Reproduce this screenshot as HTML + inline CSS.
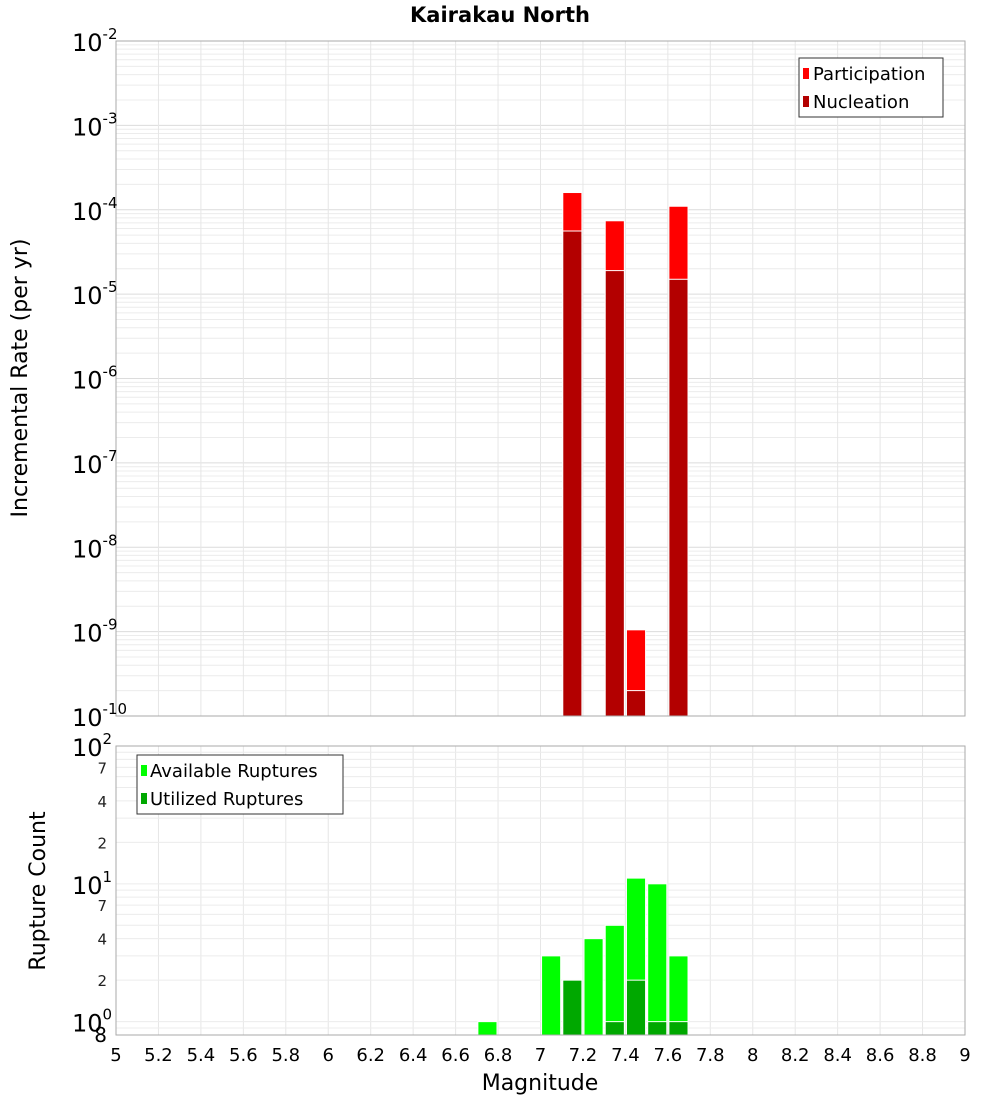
<!DOCTYPE html>
<html><head><meta charset="utf-8"><style>
body{margin:0;background:#fff;font-family:"DejaVu Sans","Liberation Sans",sans-serif}
</style></head><body>
<svg id="c" width="1000" height="1100" xmlns="http://www.w3.org/2000/svg" font-family="DejaVu Sans, Liberation Sans, sans-serif">
<text x="500" y="22" text-anchor="middle" font-size="21" font-weight="bold">Kairakau North</text>
<g id="topG"></g>
<g id="botG"></g>
<text transform="translate(27,378) rotate(-90)" text-anchor="middle" font-size="22">Incremental Rate (per yr)</text>
<text transform="translate(45,891) rotate(-90)" text-anchor="middle" font-size="22">Rupture Count</text>
<text x="540" y="1090" text-anchor="middle" font-size="22">Magnitude</text>
</svg>
<script>
const mags=[7.15,7.35,7.45,7.65];
const participation=[1.6e-4,7.4e-5,1.05e-9,1.1e-4];
const nucleation=[5.6e-5,1.9e-5,2e-10,1.5e-5];
const countMags=[6.75,7.05,7.15,7.25,7.35,7.45,7.55,7.65];
const available=[1,3,2,4,5,11,10,3];
const utilized=[0,0,2,0,1,2,1,1];
const xTicks=[5,5.2,5.4,5.6,5.8,6,6.2,6.4,6.6,6.8,7,7.2,7.4,7.6,7.8,8,8.2,8.4,8.6,8.8,9];
const rateExps=[-2,-3,-4,-5,-6,-7,-8,-9,-10];
const countMinor=[2,4,7,20,40,70];

const NS='http://www.w3.org/2000/svg';
const X0=116,X1=965;
const xs=m=>X0+(m-5)/4*(X1-X0);
const T0=41,T1=716;
const yt=v=>T0+(-2-Math.log10(v))/8*(T1-T0);
const B0=746,B1=1035;
const yb=v=>B0+(Math.log10(100)-Math.log10(v))/(2-Math.log10(0.8))*(B1-B0);
function el(p,t,a){const e=document.createElementNS(NS,t);for(const k in a)e.setAttribute(k,a[k]);p.appendChild(e);return e;}
const topG=document.getElementById('topG'),botG=document.getElementById('botG');

for(let e=-10;e<-2;e++)for(let k=1;k<10;k++){const y=yt(k*Math.pow(10,e));
const l=el(topG,'line',{x1:X0,x2:X1,y1:y,y2:y,stroke:k==1?'#dcdcdc':'#ececec','stroke-width':1});

}
xTicks.forEach(t=>{const x=xs(t);
const l=el(topG,'line',{x1:x,x2:x,y1:T0,y2:T1,stroke:'#e6e6e6'});


const l2=el(botG,'line',{x1:x,x2:x,y1:B0,y2:B1,stroke:'#e6e6e6'});

});
mags.forEach((m,i)=>{const x=xs(m-0.045),w=xs(m+0.045)-x;
const r=el(topG,'rect',{x:x,y:yt(participation[i]),width:w,height:T1-yt(participation[i]),fill:'#ff0000',stroke:'#fff','stroke-width':1});


const n=el(topG,'rect',{x:x,y:yt(nucleation[i]),width:w,height:T1-yt(nucleation[i]),fill:'#b30000',stroke:'#fff','stroke-width':1});

});
el(topG,'rect',{x:X0,y:T0,width:X1-X0,height:T1-T0,fill:'none',stroke:'#aaa'});
rateExps.forEach(e=>{const y=yt(Math.pow(10,e));
const t=el(topG,'text',{x:72,y:y+10,'font-size':24});


t.innerHTML='10<tspan dy="-12" font-size="15">'+e+'</tspan>';});
const lg=el(topG,'g',{});


el(lg,'rect',{x:799,y:58,width:144,height:59,fill:'#fff',stroke:'#333'});
el(lg,'rect',{x:803,y:68,width:6,height:11,fill:'#ff0000'});
el(lg,'rect',{x:803,y:96,width:6,height:11,fill:'#b30000'});
const lt1=el(lg,'text',{x:813,y:80,'font-size':18});lt1.textContent='Participation';
const lt2=el(lg,'text',{x:813,y:108,'font-size':18});lt2.textContent='Nucleation';

for(let e=-1;e<2;e++)for(let k=1;k<10;k++){const v=k*Math.pow(10,e);if(v<0.8)continue;const y=yb(v);
const l=el(botG,'line',{x1:X0,x2:X1,y1:y,y2:y,stroke:'#ececec'});

}
countMags.forEach((m,i)=>{const x=xs(m-0.045),w=xs(m+0.045)-x;
const r=el(botG,'rect',{x:x,y:yb(available[i]),width:w,height:B1-yb(available[i]),fill:'#00ff00',stroke:'#fff','stroke-width':1});


if(utilized[i]>0){const u=el(botG,'rect',{x:x,y:yb(utilized[i]),width:w,height:B1-yb(utilized[i]),fill:'#00a800',stroke:'#fff','stroke-width':1});

}});
el(botG,'rect',{x:X0,y:B0,width:X1-X0,height:B1-B0,fill:'none',stroke:'#aaa'});
[0,1,2].forEach(e=>{const y=yb(Math.pow(10,e));
const t=el(botG,'text',{x:72,y:y+10,'font-size':24});


t.innerHTML='10<tspan dy="-12" font-size="15">'+e+'</tspan>';});
countMinor.forEach(v=>{const t=el(botG,'text',{x:107,y:yb(v)+6,'font-size':15,'text-anchor':'end',fill:'#222'});


t.textContent=String(v).charAt(0);});
{const t=el(botG,'text',{x:107,y:yb(0.8)+7,'font-size':20,'text-anchor':'end'});


t.textContent='8';}
xTicks.forEach(v=>{const t=el(botG,'text',{x:xs(v),y:1061,'font-size':18,'text-anchor':'middle'});


t.textContent=String(v);});
const bl=el(botG,'g',{});


el(bl,'rect',{x:137,y:755,width:206,height:59,fill:'#fff',stroke:'#333'});
el(bl,'rect',{x:141,y:765,width:6,height:11,fill:'#00ff00'});
el(bl,'rect',{x:141,y:793,width:6,height:11,fill:'#00a800'});
const b1=el(bl,'text',{x:150,y:777,'font-size':18});b1.textContent='Available Ruptures';
const b2=el(bl,'text',{x:150,y:805,'font-size':18});b2.textContent='Utilized Ruptures';
</script>
</body></html>
